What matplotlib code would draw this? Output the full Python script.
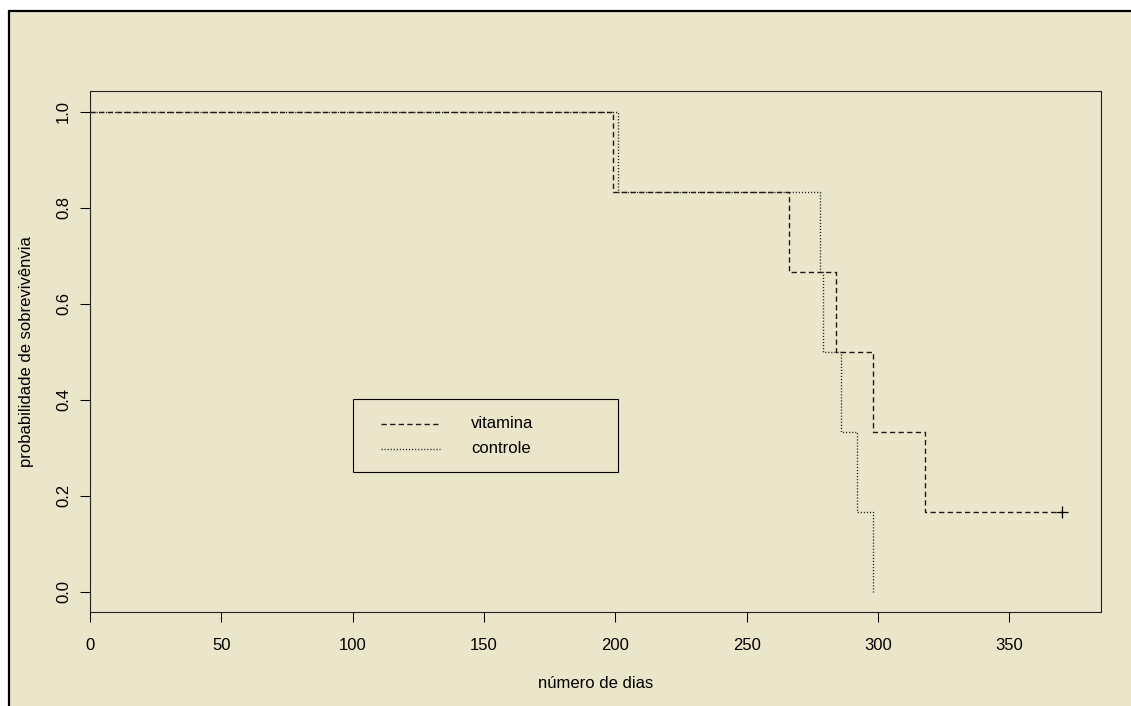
import matplotlib
matplotlib.use("Agg")
import matplotlib.pyplot as plt
from matplotlib.patches import Rectangle
from matplotlib.lines import Line2D

plt.rcParams['font.family'] = ['Liberation Sans', 'DejaVu Sans']
plt.rcParams['lines.scale_dashes'] = False

# Kaplan-Meier step data
vit_times = [0, 199, 266, 284, 298, 318, 370]
vit_surv = [1.0, 5/6, 4/6, 3/6, 2/6, 1/6, 1/6]
vit_censor_t = [370]
vit_censor_s = [1/6]

ctl_times = [0, 201, 278, 279, 286, 292, 298]
ctl_surv = [1.0, 5/6, 4/6, 3/6, 2/6, 1/6, 0.0]

xticks = [0, 50, 100, 150, 200, 250, 300, 350]
yticks = [0.0, 0.2, 0.4, 0.6, 0.8, 1.0]
legend_labels = ["vitamina", "controle"]
xlabel = "número de dias"
ylabel = "probabilidade de sobrevivênvia"

bg = "#EBE6CA"
W, H = 1131, 706
fig = plt.figure(figsize=(W/100, H/100), dpi=100, facecolor="white")

# outer framed panel
fig.patches.append(Rectangle((9/W, -0.1), 1.2, 1.1 - 11/H, transform=fig.transFigure,
                             facecolor=bg, edgecolor="black", linewidth=1.6, zorder=-10))

ax = fig.add_axes([90/W, 1 - 611.7/H, 1010.7/W, 520.4/H])
ax.set_facecolor(bg)

dash = (0, (3.8, 2.4))
dot = (0, (0.8, 1.4))
ax.step(vit_times, vit_surv, where="post", color="#1a1a1a", lw=1.0, linestyle=dash)
ax.step(ctl_times, ctl_surv, where="post", color="#1a1a1a", lw=1.0, linestyle=dot)
ax.plot(vit_censor_t, vit_censor_s, linestyle="none", marker="+", color="black",
        markersize=9, markeredgewidth=0.9)

ax.set_xlim(0, 384.8)
ax.set_ylim(-0.0417, 1.0425)
ax.set_xticks(xticks)
ax.set_xticklabels([str(t) for t in xticks])
ax.set_yticks(yticks)
ax.set_yticklabels([f"{t:.1f}" for t in yticks], rotation=90, va="center")
ax.tick_params(axis="both", direction="out", length=7.2, width=0.75, labelsize=12, colors="black")
ax.tick_params(axis="x", pad=12)
ax.tick_params(axis="y", pad=6.5)
for s in ax.spines.values():
    s.set_linewidth(0.8)
    s.set_color("#222222")

ax.set_xlabel(xlabel, fontsize=12)
ax.xaxis.set_label_coords(0.5, -(684 - 611.7) / 520.4)
ax.xaxis.label.set_va("center")
ax.set_ylabel(ylabel, fontsize=12)
ax.yaxis.set_label_coords(-(90 - 26) / 1010.7, 0.5)
ax.yaxis.label.set_va("center")

# legend box (manual, R style)
bx0, bx1 = (352.7 - 90) / 1010.7, (617.7 - 90) / 1010.7
by0, by1 = (611.7 - 472) / 520.4, (611.7 - 399.3) / 520.4
ax.add_patch(Rectangle((bx0, by0), bx1 - bx0, by1 - by0, transform=ax.transAxes,
                       facecolor="none", edgecolor="black", linewidth=0.8, zorder=5))
lx0, lx1 = (381 - 90) / 1010.7, (440 - 90) / 1010.7
ly = [(611.7 - 423.7) / 520.4, (611.7 - 448.7) / 520.4]
tx = (471 - 90) / 1010.7
for y, ls, lab in zip(ly, [dash, dot], legend_labels):
    ax.add_line(Line2D([lx0, lx1], [y, y], transform=ax.transAxes, color="#1a1a1a",
                       lw=1.0, linestyle=ls, zorder=6))
    ax.text(tx, y, lab, transform=ax.transAxes, fontsize=12, va="center", ha="left")

fig.savefig("out.png", dpi=100, facecolor="white")
